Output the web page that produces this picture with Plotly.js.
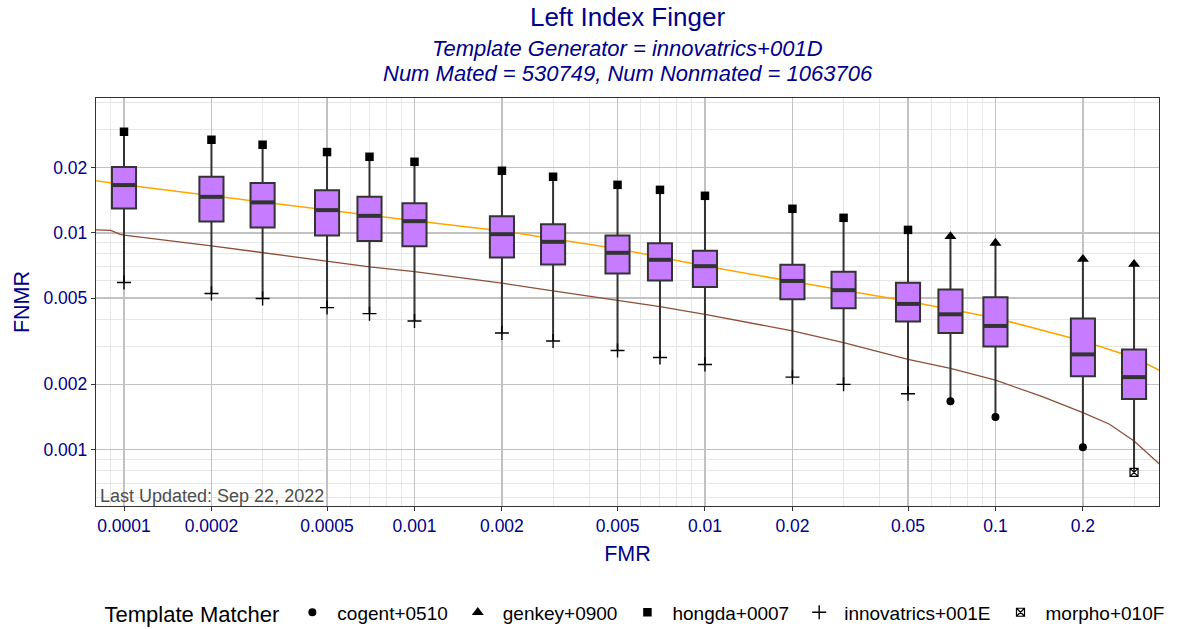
<!DOCTYPE html>
<html><head><meta charset="utf-8">
<script src="https://cdn.plot.ly/plotly-3.0.1.min.js"></script>
<style>html,body{margin:0;padding:0;background:#fff}#chart{width:1180px;height:629px}</style>
</head><body><div id="chart"></div>
<script>
// Box positions (FMR) and box statistics (FNMR)
const fmr = [0.0001,0.0002,0.0003,0.0005,0.0007,0.001,0.002,0.003,0.005,0.007,0.01,0.02,0.03,0.05,0.07,0.1,0.2,0.3];
const q1  = [0.01296,0.01129,0.01059,0.00973,0.00918,0.00868,0.0077,0.00715,0.0065,0.00603,0.00563,0.00494,0.00449,0.0039,0.00345,0.00299,0.00218,0.00171];
const med = [0.01661,0.01466,0.01382,0.01273,0.01198,0.01132,0.00986,0.00909,0.00809,0.00751,0.00702,0.006,0.00544,0.0047,0.00421,0.00372,0.00275,0.00216];
const q3  = [0.0201,0.01814,0.01696,0.0157,0.01466,0.01371,0.01194,0.01097,0.00973,0.00896,0.00826,0.00712,0.00661,0.00588,0.00548,0.00505,0.00403,0.0029];

// Individual template matchers
const cogentX = [0.07,0.1,0.2];
const cogentY = [0.00167,0.001414,0.001025];
const genkeyX = [0.07,0.1,0.2,0.3];
const genkeyY = [0.00962,0.00897,0.00756,0.00717];
const hongdaX = [0.0001,0.0002,0.0003,0.0005,0.0007,0.001,0.002,0.003,0.005,0.007,0.01,0.02,0.03,0.05];
const hongdaY = [0.02926,0.02688,0.02549,0.02358,0.02243,0.02127,0.01933,0.01814,0.01665,0.01579,0.01482,0.01291,0.01173,0.01032];
const innovX = [0.0001,0.0002,0.0003,0.0005,0.0007,0.001,0.002,0.003,0.005,0.007,0.01,0.02,0.03,0.05];
const innovY = [0.0059,0.00525,0.00498,0.00452,0.00424,0.00392,0.003453,0.00317,0.002865,0.00266,0.00247,0.00216,0.002,0.00181];
const morphoX = [0.3];
const morphoY = [0.000786];

// Curves
const orangeFmr  = [0.00008,0.0001,0.001,0.002,0.005,0.01,0.02,0.05,0.1,0.2,0.3,0.37];
const orangeFnmr = [0.0174,0.01665,0.01136,0.01021,0.00845,0.00704,0.00596,0.00484,0.00405,0.00317,0.00266,0.00231];
const brownFmr  = [0.00008,0.00009,0.000097,0.0001,0.0002,0.0003,0.0005,0.0007,0.001,0.002,0.003,0.005,0.007,0.01,0.02,0.03,0.05,0.07,0.1,0.145,0.2,0.247,0.27,0.3,0.37];
const brownFnmr = [0.01032,0.01026,0.00983,0.00977,0.00871,0.00809,0.00738,0.00697,0.00663,0.00586,0.0054,0.0049,0.00457,0.00421,0.00353,0.00312,0.00261,0.00237,0.00209,0.001757,0.001482,0.00131,0.00121,0.001096,0.00085];

// Tick labels
const xTickVals = [0.0001,0.0002,0.0005,0.001,0.002,0.005,0.01,0.02,0.05,0.1,0.2];
const xTickText = ['0.0001','0.0002','0.0005','0.001','0.002','0.005','0.01','0.02','0.05','0.1','0.2'];
const yTickVals = [0.001,0.002,0.005,0.01,0.02];
const yTickText = ['0.001','0.002','0.005','0.01','0.02'];

// whisker ends from matcher points
const allX = [].concat(cogentX, genkeyX, hongdaX, innovX, morphoX);
const allY = [].concat(cogentY, genkeyY, hongdaY, innovY, morphoY);
const lo = fmr.map(f => Math.min(...allY.filter((v,i) => allX[i] === f)));
const hi = fmr.map(f => Math.max(...allY.filter((v,i) => allX[i] === f)));

function minorVals(e0, e1){ const o=[]; for(let e=e0;e<=e1;e++){ for(let m=1;m<=9;m++){ o.push(+(m*Math.pow(10,e)).toPrecision(3)); } } return o; }

const FONT = 'Liberation Sans, Arial, sans-serif';
const NAVY = '#00008B';
const XR = [-4.0964, -0.437];
const YR = [-3.260, -1.378];

const traces = [
  {type:'scatter', mode:'lines', x:orangeFmr, y:orangeFnmr, line:{color:'#FFA500', width:1.5}, showlegend:false, hoverinfo:'skip'},
  {type:'scatter', mode:'lines', x:brownFmr, y:brownFnmr, line:{color:'#8E4E38', width:1.3}, showlegend:false, hoverinfo:'skip'},
  {type:'box', x:fmr, q1:q1, median:med, q3:q3, lowerfence:lo, upperfence:hi, width:0.083,
   xaxis:'x2', yaxis:'y2', fillcolor:'#C77CFF', line:{color:'#333333', width:2}, whiskerwidth:0, boxpoints:false, showlegend:false},
  {type:'scatter', mode:'markers', x:fmr, y:med, xaxis:'x2', yaxis:'y2', showlegend:false, hoverinfo:'skip',
   marker:{symbol:'line-ew', size:16.5, line:{color:'#333333', width:4}}},
  {type:'scatter', mode:'markers', name:'cogent+0510', x:cogentX, y:cogentY, xaxis:'x2', yaxis:'y2', marker:{symbol:'circle', size:8, color:'#000'}},
  {type:'scatter', mode:'markers', name:'genkey+0900', x:genkeyX, y:genkeyY, xaxis:'x2', yaxis:'y2', marker:{symbol:'triangle-up', size:10.5, color:'#000'}},
  {type:'scatter', mode:'markers', name:'hongda+0007', x:hongdaX, y:hongdaY, xaxis:'x2', yaxis:'y2', marker:{symbol:'square', size:8.5, color:'#000'}},
  {type:'scatter', mode:'markers', name:'innovatrics+001E', x:innovX, y:innovY, xaxis:'x2', yaxis:'y2', marker:{symbol:'cross-thin', size:10, line:{color:'#000', width:1.4}}},
  {type:'scatter', mode:'markers', name:'morpho+010F', x:morphoX, y:morphoY, xaxis:'x2', yaxis:'y2', marker:{symbol:'square-x-open', size:8, color:'#000', line:{width:1.2}}}
];

const axBase = {type:'log', showline:true, mirror:true, linecolor:'#333333', linewidth:1.2,
  ticks:'outside', ticklen:4, tickcolor:'#333333', tickwidth:1, gridcolor:'#C2C2C2', gridwidth:1.4,
  tickfont:{family:FONT, size:17.5, color:NAVY}, zeroline:false, tickmode:'array'};

const layout = {
  width:1180, height:629,
  margin:{l:96, r:21, t:98, b:123, autoexpand:false},
  paper_bgcolor:'#fff', plot_bgcolor:'#fff',
  font:{family:FONT},
  title:{text:'Left Index Finger', x:0.5, xref:'paper', xanchor:'center', y:1-17/629, yref:'container', yanchor:'middle',
    font:{family:FONT, size:26, color:NAVY}},
  xaxis:Object.assign({}, axBase, {range:XR, tickvals:xTickVals, ticktext:xTickText,
    minor:{tickmode:'array', tickvals:minorVals(-5,-1), showgrid:true, gridcolor:'#E6E6E6', gridwidth:1, ticks:''},
    title:{text:'FMR', font:{family:FONT, size:21.5, color:NAVY}, standoff:10}}),
  yaxis:Object.assign({}, axBase, {range:YR, tickvals:yTickVals, ticktext:yTickText,
    minor:{tickmode:'array', tickvals:minorVals(-4,-1), showgrid:true, gridcolor:'#E6E6E6', gridwidth:1, ticks:''},
    title:{text:'FNMR', font:{family:FONT, size:21.5, color:NAVY}, standoff:8}}),
  xaxis2:{type:'log', range:XR, overlaying:'x', anchor:'y2', visible:false},
  yaxis2:{type:'log', range:YR, overlaying:'y', anchor:'x2', visible:false},
  legend:{orientation:'h', x:0.508, xanchor:'center', y:-0.262, yanchor:'middle',
    font:{family:FONT, size:19, color:'#000'},
    title:{text:'Template Matcher', side:'left', font:{family:FONT, size:22, color:'#000'}},
    itemwidth:40, tracegroupgap:0},
  annotations:[
    {text:'<i>Template Generator = innovatrics+001D</i>', xref:'paper', yref:'paper', x:0.5, y:(506-48)/408, xanchor:'center', yanchor:'middle', showarrow:false,
     font:{family:FONT, size:22, color:NAVY}},
    {text:'<i>Num Mated = 530749, Num Nonmated = 1063706</i>', xref:'paper', yref:'paper', x:0.5, y:(506-73)/408, xanchor:'center', yanchor:'middle', showarrow:false,
     font:{family:FONT, size:22, color:NAVY}},
    {text:'Last Updated: Sep 22, 2022', xref:'paper', yref:'paper', x:0, y:0, xanchor:'left', yanchor:'bottom', xshift:2, yshift:-2, showarrow:false,
     font:{family:FONT, size:18, color:'#4D4D4D'}}
  ]
};

Plotly.newPlot('chart', traces, layout, {displayModeBar:false, staticPlot:true});
</script>
</body></html>
